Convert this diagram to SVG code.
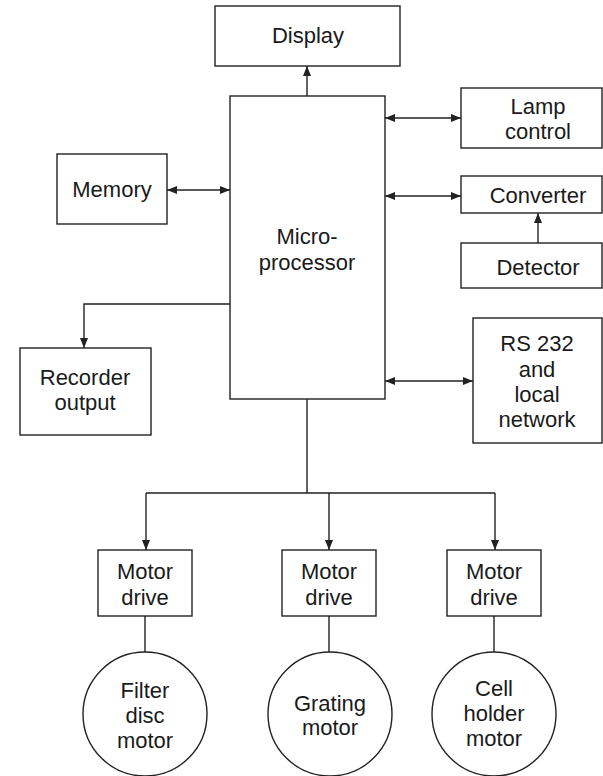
<svg xmlns="http://www.w3.org/2000/svg" width="603" height="776" viewBox="0 0 603 776">
<style>
.b{fill:#fff;stroke:#222;stroke-width:1.4}
.t{font-family:"Liberation Sans",Arial,sans-serif;font-size:22px;fill:#1a1a1a;text-anchor:middle}
.c{fill:none;stroke:#222;stroke-width:1.4}
</style>
<defs>
<marker id="ah" viewBox="0 0 10 8" refX="10" refY="4" markerWidth="10" markerHeight="8" markerUnits="userSpaceOnUse" orient="auto-start-reverse">
<path d="M0,0 L10,4 L0,8 Z" fill="#222"/>
</marker>
</defs>
<rect width="603" height="776" fill="#fff"/>
<g id="connectors">
<path class="c" d="M307,96 V66" marker-end="url(#ah)"/>
<path class="c" d="M385,118 H461" marker-start="url(#ah)" marker-end="url(#ah)"/>
<path class="c" d="M385,196 H461" marker-start="url(#ah)" marker-end="url(#ah)"/>
<path class="c" d="M538,243 V213" marker-end="url(#ah)"/>
<path class="c" d="M167,190 H230" marker-start="url(#ah)" marker-end="url(#ah)"/>
<path class="c" d="M230,304 H84 V348" marker-end="url(#ah)"/>
<path class="c" d="M385,381 H473" marker-start="url(#ah)" marker-end="url(#ah)"/>
<path class="c" d="M307,399 V493 M146,493 H495"/>
<path class="c" d="M146,493 V550" marker-end="url(#ah)"/>
<path class="c" d="M329,493 V550" marker-end="url(#ah)"/>
<path class="c" d="M495,493 V550" marker-end="url(#ah)"/>
<path class="c" d="M145,616 V652 M329,616 V652 M494,616 V652"/>
</g>
<g id="display"><rect class="b" x="215" y="6" width="185" height="60"/><text class="t" x="308" y="43">Display</text></g>
<g id="microprocessor"><rect class="b" x="230" y="96" width="155" height="303"/><text class="t" x="307" y="244">Micro-</text><text class="t" x="307" y="270">processor</text></g>
<g id="lamp"><rect class="b" x="461" y="88" width="141" height="60"/><text class="t" x="538" y="114">Lamp</text><text class="t" x="538" y="139">control</text></g>
<g id="converter"><rect class="b" x="461" y="176" width="141" height="37"/><text class="t" x="538" y="203">Converter</text></g>
<g id="detector"><rect class="b" x="461" y="243" width="141" height="45"/><text class="t" x="538" y="275">Detector</text></g>
<g id="memory"><rect class="b" x="57" y="154" width="110" height="70"/><text class="t" x="112" y="197">Memory</text></g>
<g id="recorder"><rect class="b" x="20" y="348" width="131" height="87"/><text class="t" x="85" y="385">Recorder</text><text class="t" x="85" y="410">output</text></g>
<g id="rs232"><rect class="b" x="473" y="318" width="129" height="125"/><text class="t" x="537" y="351">RS 232</text><text class="t" x="537" y="377">and</text><text class="t" x="537" y="402">local</text><text class="t" x="537" y="427">network</text></g>
<g id="drive1"><rect class="b" x="98" y="550" width="94" height="66"/><text class="t" x="145" y="579">Motor</text><text class="t" x="145" y="605">drive</text></g>
<g id="drive2"><rect class="b" x="282" y="550" width="94" height="66"/><text class="t" x="329" y="579">Motor</text><text class="t" x="329" y="605">drive</text></g>
<g id="drive3"><rect class="b" x="447" y="550" width="94" height="66"/><text class="t" x="494" y="579">Motor</text><text class="t" x="494" y="605">drive</text></g>
<g id="motor1"><circle class="b" cx="145" cy="714" r="62"/><text class="t" x="145" y="698">Filter</text><text class="t" x="145" y="723">disc</text><text class="t" x="145" y="748">motor</text></g>
<g id="motor2"><circle class="b" cx="330" cy="714" r="62"/><text class="t" x="330" y="711">Grating</text><text class="t" x="330" y="735">motor</text></g>
<g id="motor3"><circle class="b" cx="494" cy="714" r="62"/><text class="t" x="494" y="696">Cell</text><text class="t" x="494" y="721">holder</text><text class="t" x="494" y="746">motor</text></g>
</svg>
